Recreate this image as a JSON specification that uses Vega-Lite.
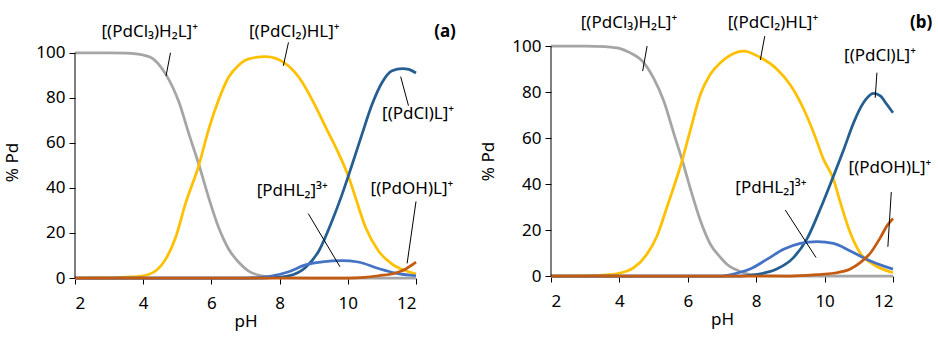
{
  "$schema": "https://vega.github.io/schema/vega-lite/v6.json",
  "background": "white",
  "padding": {"left": 3, "top": 13, "right": 0, "bottom": 6},
  "spacing": 135,
  "bounds": "flush",
  "datasets": {
    "curves": [
      {"p":"a","s":"PdCl3H2L","x":2,"y":100},{"p":"a","s":"PdCl3H2L","x":3,"y":100},{"p":"a","s":"PdCl3H2L","x":3.5,"y":99.8},{"p":"a","s":"PdCl3H2L","x":4,"y":99},{"p":"a","s":"PdCl3H2L","x":4.3,"y":97.2},{"p":"a","s":"PdCl3H2L","x":4.66,"y":90.5},{"p":"a","s":"PdCl3H2L","x":5.05,"y":78},{"p":"a","s":"PdCl3H2L","x":5.34,"y":64},{"p":"a","s":"PdCl3H2L","x":5.63,"y":50.5},{"p":"a","s":"PdCl3H2L","x":5.92,"y":35.7},{"p":"a","s":"PdCl3H2L","x":6.21,"y":22.5},{"p":"a","s":"PdCl3H2L","x":6.5,"y":13},{"p":"a","s":"PdCl3H2L","x":6.8,"y":7},{"p":"a","s":"PdCl3H2L","x":7.08,"y":3.2},{"p":"a","s":"PdCl3H2L","x":7.4,"y":1.2},{"p":"a","s":"PdCl3H2L","x":7.7,"y":0.5},{"p":"a","s":"PdCl3H2L","x":8,"y":0.2},{"p":"a","s":"PdCl3H2L","x":9,"y":0},{"p":"a","s":"PdCl3H2L","x":10,"y":0},{"p":"a","s":"PdCl3H2L","x":11,"y":0},{"p":"a","s":"PdCl3H2L","x":12,"y":0},
      {"p":"a","s":"PdCl2HL","x":2,"y":0},{"p":"a","s":"PdCl2HL","x":3,"y":0.1},{"p":"a","s":"PdCl2HL","x":3.5,"y":0.4},{"p":"a","s":"PdCl2HL","x":4,"y":1},{"p":"a","s":"PdCl2HL","x":4.37,"y":3.2},{"p":"a","s":"PdCl2HL","x":4.66,"y":8.4},{"p":"a","s":"PdCl2HL","x":4.95,"y":18},{"p":"a","s":"PdCl2HL","x":5.24,"y":33},{"p":"a","s":"PdCl2HL","x":5.63,"y":50},{"p":"a","s":"PdCl2HL","x":5.92,"y":66},{"p":"a","s":"PdCl2HL","x":6.21,"y":79},{"p":"a","s":"PdCl2HL","x":6.5,"y":89},{"p":"a","s":"PdCl2HL","x":6.8,"y":94.5},{"p":"a","s":"PdCl2HL","x":7.1,"y":97.3},{"p":"a","s":"PdCl2HL","x":7.6,"y":98.3},{"p":"a","s":"PdCl2HL","x":8.13,"y":95.6},{"p":"a","s":"PdCl2HL","x":8.57,"y":89},{"p":"a","s":"PdCl2HL","x":8.96,"y":79},{"p":"a","s":"PdCl2HL","x":9.35,"y":67},{"p":"a","s":"PdCl2HL","x":9.74,"y":55},{"p":"a","s":"PdCl2HL","x":10.03,"y":44.6},{"p":"a","s":"PdCl2HL","x":10.22,"y":36},{"p":"a","s":"PdCl2HL","x":10.52,"y":22.5},{"p":"a","s":"PdCl2HL","x":10.9,"y":12},{"p":"a","s":"PdCl2HL","x":11.3,"y":6.2},{"p":"a","s":"PdCl2HL","x":11.7,"y":3.2},{"p":"a","s":"PdCl2HL","x":12,"y":1.8},
      {"p":"a","s":"PdClL","x":2,"y":0},{"p":"a","s":"PdClL","x":6,"y":0},{"p":"a","s":"PdClL","x":7.5,"y":0},{"p":"a","s":"PdClL","x":7.8,"y":0.2},{"p":"a","s":"PdClL","x":8.27,"y":1},{"p":"a","s":"PdClL","x":8.76,"y":4.7},{"p":"a","s":"PdClL","x":9.15,"y":12},{"p":"a","s":"PdClL","x":9.54,"y":25.4},{"p":"a","s":"PdClL","x":9.83,"y":37},{"p":"a","s":"PdClL","x":10.13,"y":50.5},{"p":"a","s":"PdClL","x":10.42,"y":64},{"p":"a","s":"PdClL","x":10.71,"y":77},{"p":"a","s":"PdClL","x":11,"y":86.7},{"p":"a","s":"PdClL","x":11.3,"y":92},{"p":"a","s":"PdClL","x":11.6,"y":93},{"p":"a","s":"PdClL","x":11.79,"y":92.6},{"p":"a","s":"PdClL","x":12,"y":91},
      {"p":"a","s":"PdHL2","x":2,"y":0},{"p":"a","s":"PdHL2","x":6,"y":0},{"p":"a","s":"PdHL2","x":7,"y":0},{"p":"a","s":"PdHL2","x":7.5,"y":0.4},{"p":"a","s":"PdHL2","x":7.8,"y":1},{"p":"a","s":"PdHL2","x":8.27,"y":2.8},{"p":"a","s":"PdHL2","x":8.76,"y":5.8},{"p":"a","s":"PdHL2","x":9.25,"y":7.2},{"p":"a","s":"PdHL2","x":9.83,"y":7.7},{"p":"a","s":"PdHL2","x":10.3,"y":7.1},{"p":"a","s":"PdHL2","x":10.9,"y":4.2},{"p":"a","s":"PdHL2","x":11.4,"y":2.2},{"p":"a","s":"PdHL2","x":12,"y":1},
      {"p":"a","s":"PdOHL","x":2,"y":0},{"p":"a","s":"PdOHL","x":6,"y":0},{"p":"a","s":"PdOHL","x":10,"y":0},{"p":"a","s":"PdOHL","x":10.5,"y":0.3},{"p":"a","s":"PdOHL","x":10.9,"y":1},{"p":"a","s":"PdOHL","x":11.4,"y":2.2},{"p":"a","s":"PdOHL","x":11.7,"y":4},{"p":"a","s":"PdOHL","x":12,"y":7},
      {"p":"b","s":"PdCl3H2L","x":2,"y":100},{"p":"b","s":"PdCl3H2L","x":3,"y":100},{"p":"b","s":"PdCl3H2L","x":3.6,"y":99.7},{"p":"b","s":"PdCl3H2L","x":4,"y":99},{"p":"b","s":"PdCl3H2L","x":4.32,"y":97},{"p":"b","s":"PdCl3H2L","x":4.71,"y":92.8},{"p":"b","s":"PdCl3H2L","x":5,"y":86},{"p":"b","s":"PdCl3H2L","x":5.3,"y":76},{"p":"b","s":"PdCl3H2L","x":5.59,"y":62},{"p":"b","s":"PdCl3H2L","x":5.83,"y":50.7},{"p":"b","s":"PdCl3H2L","x":6.08,"y":37.7},{"p":"b","s":"PdCl3H2L","x":6.37,"y":24},{"p":"b","s":"PdCl3H2L","x":6.66,"y":13.8},{"p":"b","s":"PdCl3H2L","x":6.96,"y":8},{"p":"b","s":"PdCl3H2L","x":7.15,"y":5},{"p":"b","s":"PdCl3H2L","x":7.4,"y":2.8},{"p":"b","s":"PdCl3H2L","x":7.63,"y":1.4},{"p":"b","s":"PdCl3H2L","x":8,"y":0.3},{"p":"b","s":"PdCl3H2L","x":9,"y":0},{"p":"b","s":"PdCl3H2L","x":10,"y":0},{"p":"b","s":"PdCl3H2L","x":11,"y":0},{"p":"b","s":"PdCl3H2L","x":12,"y":0},
      {"p":"b","s":"PdCl2HL","x":2,"y":0},{"p":"b","s":"PdCl2HL","x":3,"y":0.1},{"p":"b","s":"PdCl2HL","x":3.5,"y":0.4},{"p":"b","s":"PdCl2HL","x":4,"y":1.2},{"p":"b","s":"PdCl2HL","x":4.42,"y":3.6},{"p":"b","s":"PdCl2HL","x":4.8,"y":9.4},{"p":"b","s":"PdCl2HL","x":5.1,"y":17.4},{"p":"b","s":"PdCl2HL","x":5.4,"y":30.4},{"p":"b","s":"PdCl2HL","x":5.83,"y":50},{"p":"b","s":"PdCl2HL","x":6.08,"y":63.8},{"p":"b","s":"PdCl2HL","x":6.37,"y":79},{"p":"b","s":"PdCl2HL","x":6.66,"y":87.7},{"p":"b","s":"PdCl2HL","x":6.96,"y":92.8},{"p":"b","s":"PdCl2HL","x":7.24,"y":96},{"p":"b","s":"PdCl2HL","x":7.63,"y":97.8},{"p":"b","s":"PdCl2HL","x":8.12,"y":95},{"p":"b","s":"PdCl2HL","x":8.6,"y":90},{"p":"b","s":"PdCl2HL","x":9,"y":83},{"p":"b","s":"PdCl2HL","x":9.39,"y":72.5},{"p":"b","s":"PdCl2HL","x":9.68,"y":62.3},{"p":"b","s":"PdCl2HL","x":9.97,"y":50.7},{"p":"b","s":"PdCl2HL","x":10.26,"y":42},{"p":"b","s":"PdCl2HL","x":10.46,"y":32},{"p":"b","s":"PdCl2HL","x":10.75,"y":18.8},{"p":"b","s":"PdCl2HL","x":11.04,"y":10},{"p":"b","s":"PdCl2HL","x":11.43,"y":5},{"p":"b","s":"PdCl2HL","x":12,"y":1.4},
      {"p":"b","s":"PdClL","x":2,"y":0},{"p":"b","s":"PdClL","x":6,"y":0},{"p":"b","s":"PdClL","x":7.5,"y":0},{"p":"b","s":"PdClL","x":8.02,"y":0.7},{"p":"b","s":"PdClL","x":8.6,"y":3},{"p":"b","s":"PdClL","x":9.09,"y":8},{"p":"b","s":"PdClL","x":9.48,"y":16},{"p":"b","s":"PdClL","x":9.87,"y":29},{"p":"b","s":"PdClL","x":10.26,"y":43.5},{"p":"b","s":"PdClL","x":10.56,"y":55},{"p":"b","s":"PdClL","x":10.85,"y":66.7},{"p":"b","s":"PdClL","x":11.14,"y":75.4},{"p":"b","s":"PdClL","x":11.43,"y":79.4},{"p":"b","s":"PdClL","x":11.63,"y":78.3},{"p":"b","s":"PdClL","x":11.82,"y":74.6},{"p":"b","s":"PdClL","x":12,"y":71},
      {"p":"b","s":"PdHL2","x":2,"y":0},{"p":"b","s":"PdHL2","x":6,"y":0},{"p":"b","s":"PdHL2","x":7,"y":0},{"p":"b","s":"PdHL2","x":7.43,"y":1.2},{"p":"b","s":"PdHL2","x":7.82,"y":3},{"p":"b","s":"PdHL2","x":8.31,"y":7.2},{"p":"b","s":"PdHL2","x":8.8,"y":11.6},{"p":"b","s":"PdHL2","x":9.29,"y":14.2},{"p":"b","s":"PdHL2","x":9.78,"y":15},{"p":"b","s":"PdHL2","x":10.26,"y":14.2},{"p":"b","s":"PdHL2","x":10.75,"y":10.9},{"p":"b","s":"PdHL2","x":11.24,"y":7.2},{"p":"b","s":"PdHL2","x":11.73,"y":4.3},{"p":"b","s":"PdHL2","x":12,"y":3},
      {"p":"b","s":"PdOHL","x":2,"y":0},{"p":"b","s":"PdOHL","x":6,"y":0},{"p":"b","s":"PdOHL","x":9,"y":0},{"p":"b","s":"PdOHL","x":9.78,"y":0.6},{"p":"b","s":"PdOHL","x":10.26,"y":1.2},{"p":"b","s":"PdOHL","x":10.75,"y":3},{"p":"b","s":"PdOHL","x":11.04,"y":5.8},{"p":"b","s":"PdOHL","x":11.34,"y":10},{"p":"b","s":"PdOHL","x":11.63,"y":16.7},{"p":"b","s":"PdOHL","x":11.82,"y":21.7},{"p":"b","s":"PdOHL","x":12,"y":25}
    ],
    "axisline": [
      {"p":"a","x":2,"y":0,"y2":100},
      {"p":"b","x":2,"y":0,"y2":100}
    ],
    "leaders": [
      {"p":"a","x":4.80,"y":100,"x2":4.67,"y2":89.7},
      {"p":"a","x":8.26,"y":104.6,"x2":8.11,"y2":94.2},
      {"p":"a","x":11.55,"y":89.4,"x2":11.78,"y2":76.5},
      {"p":"a","x":8.84,"y":28.6,"x2":9.77,"y2":5.0},
      {"p":"a","x":12.0,"y":34.0,"x2":11.74,"y2":6.5},
      {"p":"b","x":4.81,"y":100,"x2":4.68,"y2":89.1},
      {"p":"b","x":8.25,"y":104.3,"x2":8.12,"y2":93.9},
      {"p":"b","x":11.53,"y":88.4,"x2":11.48,"y2":77.5},
      {"p":"b","x":8.85,"y":28.7,"x2":9.75,"y2":8.0},
      {"p":"b","x":11.95,"y":36.5,"x2":11.85,"y2":12.7}
    ],
    "labels": [
      {"p":"a","x":4.19,"y":109.2,"t":"[(PdCl₃)H₂L]⁺"},
      {"p":"a","x":8.43,"y":109.2,"t":"[(PdCl₂)HL]⁺"},
      {"p":"a","x":12.06,"y":72.8,"t":"[(PdCl)L]⁺"},
      {"p":"a","x":8.37,"y":38.6,"t":"[PdHL₂]³⁺"},
      {"p":"a","x":11.88,"y":39.5,"t":"[(PdOH)L]⁺"},
      {"p":"b","x":4.28,"y":110,"t":"[(PdCl₃)H₂L]⁺"},
      {"p":"b","x":8.49,"y":110,"t":"[(PdCl₂)HL]⁺"},
      {"p":"b","x":11.62,"y":95.7,"t":"[(PdCl)L]⁺"},
      {"p":"b","x":8.43,"y":38.3,"t":"[PdHL₂]³⁺"},
      {"p":"b","x":11.91,"y":47,"t":"[(PdOH)L]⁺"}
    ],
    "tags": [
      {"p":"a","x":13.17,"y":109.2,"t":"(a)"},
      {"p":"b","x":13.15,"y":110,"t":"(b)"}
    ]
  },
  "hconcat": [
    {
      "width": 341,
      "height": 232,
      "encoding": {
        "x": {"field":"x","type":"quantitative","scale":{"domain":[2,12],"nice":false},"axis":{"values":[2,4,6,8,10,12],"title":"pH","domainColor":"#BFBFBF","labelPadding":11,"titlePadding":2}},
        "y": {"field":"y","type":"quantitative","scale":{"domain":[0,103],"nice":false},"axis":{"values":[0,20,40,60,80,100],"title":"% Pd","domain":false,"labelPadding":4,"titlePadding":14}}
      },
      "layer": [
        {"data":{"name":"curves"},"transform":[{"filter":"datum.p==='a'"}],"mark":{"type":"line","strokeWidth":2.75,"interpolate":"monotone","clip":false},
         "encoding":{"color":{"field":"s","type":"nominal","scale":{"domain":["PdCl3H2L","PdCl2HL","PdClL","PdHL2","PdOHL"],"range":["#A5A5A5","#FFC000","#255E91","#4472C4","#C55A11"]},"legend":null}}},
        {"data":{"name":"axisline"},"transform":[{"filter":"datum.p==='a'"}],"mark":{"type":"rule","color":"#000","strokeWidth":1},"encoding":{"y2":{"field":"y2"}}},
        {"data":{"name":"leaders"},"transform":[{"filter":"datum.p==='a'"}],"mark":{"type":"rule","color":"#000","strokeWidth":1,"clip":false},"encoding":{"x2":{"field":"x2"},"y2":{"field":"y2"}}},
        {"data":{"name":"labels"},"transform":[{"filter":"datum.p==='a'"}],"mark":{"type":"text","fontSize":17,"font":"Noto Sans","color":"#000","align":"center","baseline":"middle","clip":false},"encoding":{"text":{"field":"t"}}},
        {"data":{"name":"tags"},"transform":[{"filter":"datum.p==='a'"}],"mark":{"type":"text","fontSize":17,"font":"Noto Sans","fontWeight":"bold","color":"#000","align":"right","baseline":"middle","clip":false},"encoding":{"text":{"field":"t"}}}
      ]
    },
    {
      "width": 342,
      "height": 230,
      "encoding": {
        "x": {"field":"x","type":"quantitative","scale":{"domain":[2,12],"nice":false},"axis":{"values":[2,4,6,8,10,12],"title":"pH","domainColor":"#BFBFBF","labelPadding":11,"titlePadding":2}},
        "y": {"field":"y","type":"quantitative","scale":{"domain":[0,100],"nice":false},"axis":{"values":[0,20,40,60,80,100],"title":"% Pd","domain":false,"labelPadding":4,"titlePadding":14}}
      },
      "layer": [
        {"data":{"name":"curves"},"transform":[{"filter":"datum.p==='b'"}],"mark":{"type":"line","strokeWidth":2.75,"interpolate":"monotone","clip":false},
         "encoding":{"color":{"field":"s","type":"nominal","scale":{"domain":["PdCl3H2L","PdCl2HL","PdClL","PdHL2","PdOHL"],"range":["#A5A5A5","#FFC000","#255E91","#4472C4","#C55A11"]},"legend":null}}},
        {"data":{"name":"axisline"},"transform":[{"filter":"datum.p==='b'"}],"mark":{"type":"rule","color":"#000","strokeWidth":1},"encoding":{"y2":{"field":"y2"}}},
        {"data":{"name":"leaders"},"transform":[{"filter":"datum.p==='b'"}],"mark":{"type":"rule","color":"#000","strokeWidth":1,"clip":false},"encoding":{"x2":{"field":"x2"},"y2":{"field":"y2"}}},
        {"data":{"name":"labels"},"transform":[{"filter":"datum.p==='b'"}],"mark":{"type":"text","fontSize":17,"font":"Noto Sans","color":"#000","align":"center","baseline":"middle","clip":false},"encoding":{"text":{"field":"t"}}},
        {"data":{"name":"tags"},"transform":[{"filter":"datum.p==='b'"}],"mark":{"type":"text","fontSize":17,"font":"Noto Sans","fontWeight":"bold","color":"#000","align":"right","baseline":"middle","clip":false},"encoding":{"text":{"field":"t"}}}
      ]
    }
  ],
  "config": {
    "view": {"stroke": null},
    "axis": {"grid": false, "labelFont": "Noto Sans", "titleFont": "Noto Sans", "labelFontSize": 17, "titleFontSize": 17, "titleFontWeight": "normal", "labelColor": "#000", "titleColor": "#000", "tickColor": "#000", "domainColor": "#000", "tickSize": 6}
  }
}
